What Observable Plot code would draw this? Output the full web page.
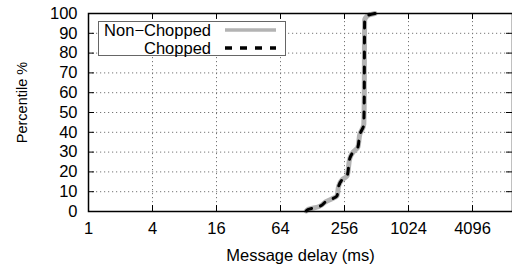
<!DOCTYPE html>
<html>
<head>
<meta charset="utf-8">
<script src="https://cdn.jsdelivr.net/npm/d3@7"></script>
<script src="https://cdn.jsdelivr.net/npm/@observablehq/plot@0.6"></script>
<style>
  html, body { margin: 0; padding: 0; background: #fff; }
  #wrap { position: relative; width: 512px; height: 268px; overflow: hidden; }
  #legend { position: absolute; left: 98px; top: 21px; }
</style>
</head>
<body>
<div id="wrap"></div>
<script>
// Data (message delay in ms vs percentile)
const nonChoppedDelay = [112, 116, 146, 170, 218, 226, 243, 271, 288, 309, 342, 357, 389, 393, 394, 396, 425, 495];
const nonChoppedPct   = [0.3, 1, 2.4, 4.9, 8, 13, 16, 18, 27, 30, 32.5, 39, 44, 60, 80, 96.5, 99, 100];
const choppedDelay    = [112, 116, 146, 170, 218, 226, 243, 271, 288, 309, 342, 357, 389, 393, 394, 396, 425, 495];
const choppedPct      = [0.3, 1, 2.4, 4.9, 8, 13, 16, 18, 27, 30, 32.5, 39, 44, 60, 80, 96.5, 99, 100];
const xTicks = [1, 4, 16, 64, 256, 1024, 4096];
const yTicks = [0, 10, 20, 30, 40, 50, 60, 70, 80, 90, 100];
const seriesNames = ["Non\u2212Chopped", "Chopped"];
const xLabel = "Message delay (ms)";
const yLabel = "Percentile %";

const xMax = Math.pow(2, 13.25);
const tickX = Math.pow(2, 6 / 32); // ~6px inward tick in log2 units

const nonChopped = nonChoppedDelay.map((d, i) => ({x: d, y: nonChoppedPct[i]}));
const chopped = choppedDelay.map((d, i) => ({x: d, y: choppedPct[i]}));

const font = "'Liberation Sans', Arial, Helvetica, sans-serif";

const chart = Plot.plot({
  width: 512,
  height: 268,
  marginLeft: 88,
  marginRight: 0,
  marginTop: 13,
  marginBottom: 57,
  style: {fontFamily: font, fontSize: "16.5px", color: "#000", background: "#fff", overflow: "visible"},
  x: {type: "log", base: 2, domain: [1, xMax], ticks: xTicks, tickFormat: d => String(d), tickSize: 0, tickPadding: 11, label: null},
  y: {domain: [0, 100], ticks: yTicks, tickSize: 0, tickPadding: 11, label: null},
  marks: [
    // dotted grid
    Plot.ruleX(xTicks.slice(1), {stroke: "#777", strokeWidth: 1, strokeDasharray: "1.2,2.8"}),
    Plot.ruleY(yTicks.slice(1, -1), {stroke: "#777", strokeWidth: 1, strokeDasharray: "1.2,2.8"}),
    // inward ticks (gnuplot style, mirrored)
    Plot.ruleX(xTicks.slice(1), {y1: 0, y2: 3, stroke: "#000", strokeWidth: 1}),
    Plot.ruleX(xTicks.slice(1), {y1: 97, y2: 100, stroke: "#000", strokeWidth: 1}),
    Plot.ruleY(yTicks.slice(1, -1), {x1: 1, x2: tickX, stroke: "#000", strokeWidth: 1}),
    Plot.ruleY(yTicks.slice(1, -1), {x1: xMax / tickX, x2: xMax, stroke: "#000", strokeWidth: 1}),
    // series
    Plot.line(nonChopped, {x: "x", y: "y", stroke: "#b3b3b3", strokeWidth: 5, curve: "monotone-y"}),
    Plot.line(chopped, {x: "x", y: "y", stroke: "#000", strokeWidth: 3, strokeDasharray: "6,9", curve: "monotone-y"}),
    Plot.frame({stroke: "#000", strokeWidth: 1.5}),
    // axis titles
    Plot.text([xLabel], {frameAnchor: "bottom", lineAnchor: "middle", textAnchor: "middle", dy: 44, text: d => d, fontSize: 16.5, fill: "#000"}),
    Plot.text([yLabel], {frameAnchor: "left", lineAnchor: "middle", textAnchor: "middle", dx: -66, dy: -10, rotate: -90, text: d => d, fontSize: 14.5, fill: "#000"})
  ]
});
document.getElementById("wrap").appendChild(chart);

// Legend (gnuplot-style key box)
const ns = "http://www.w3.org/2000/svg";
const leg = document.createElementNS(ns, "svg");
leg.setAttribute("id", "legend");
leg.setAttribute("width", 189);
leg.setAttribute("height", 36);
leg.style.fontFamily = font;
leg.style.fontSize = "16.5px";
const box = document.createElementNS(ns, "rect");
box.setAttribute("x", 0.5); box.setAttribute("y", 0.5);
box.setAttribute("width", 187); box.setAttribute("height", 34);
box.setAttribute("fill", "#fff"); box.setAttribute("stroke", "#666"); box.setAttribute("stroke-width", 1);
leg.appendChild(box);
const sampleStyles = [
  {stroke: "#b3b3b3", width: 3.5, dash: null},
  {stroke: "#000", width: 3.5, dash: "7,8"}
];
seriesNames.forEach((name, i) => {
  const cy = 9 + i * 18;
  const t = document.createElementNS(ns, "text");
  t.setAttribute("x", 113); t.setAttribute("y", cy);
  t.setAttribute("text-anchor", "end");
  t.setAttribute("dy", "0.36em");
  t.textContent = name;
  leg.appendChild(t);
  const l = document.createElementNS(ns, "line");
  l.setAttribute("x1", 127); l.setAttribute("x2", 178);
  l.setAttribute("y1", cy); l.setAttribute("y2", cy);
  l.setAttribute("stroke", sampleStyles[i].stroke);
  l.setAttribute("stroke-width", sampleStyles[i].width);
  if (sampleStyles[i].dash) l.setAttribute("stroke-dasharray", sampleStyles[i].dash);
  leg.appendChild(l);
});
document.getElementById("wrap").appendChild(leg);
</script>
</body>
</html>
